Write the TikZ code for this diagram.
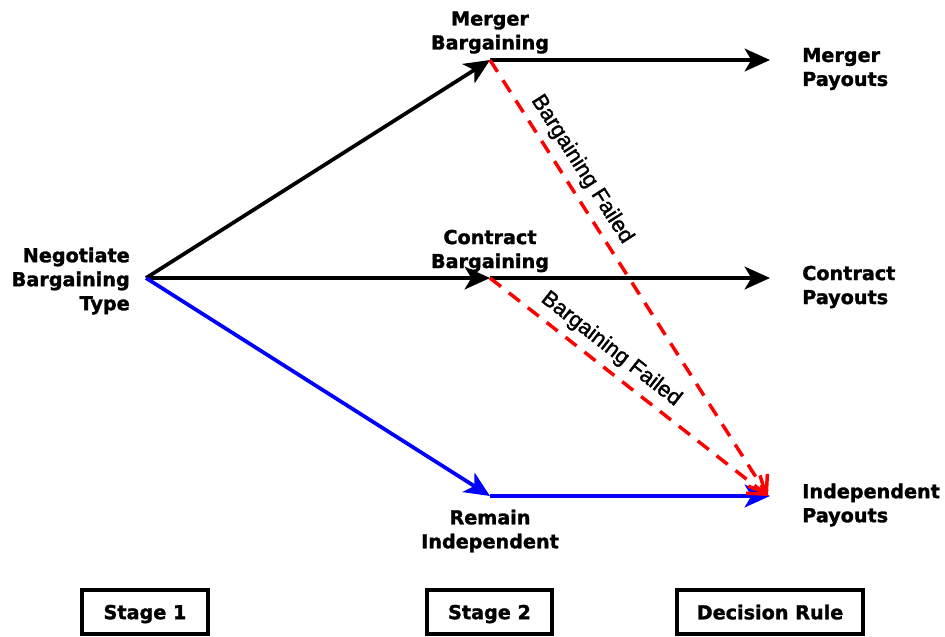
\documentclass[tikz,border=0pt]{standalone}
\usepackage{fontspec}
\setmainfont{DejaVu Sans}[BoldFeatures={FakeBold=1.5}]
\newfontfamily\arialfont{Liberation Sans}[FakeBold=1.5]
\usetikzlibrary{arrows.meta}
\begin{document}
\begin{tikzpicture}[x=0.75pt,y=-0.75pt,
  lbl/.style={font=\bfseries\fontsize{14.4}{18}\selectfont, inner sep=0pt},
  blk/.style={draw=black, line width=2.8pt, -{Stealth[length=19pt,width=17pt,inset=5pt]}},
  blu/.style={draw=blue, line width=2.8pt, -{Stealth[length=19pt,width=17pt,inset=5pt]}},
  red/.style={draw=red, line width=2.6pt, dash pattern=on 10.5pt off 7.5pt, -{Straight Barb[length=12pt,width=17pt,line width=2.6pt]}},
  fail/.style={font=\arialfont\fontsize{16.5}{18}\selectfont, sloped, above, inner sep=5pt},
  stagebox/.style={draw=black, line width=2.8pt, minimum height=33pt, text depth=0pt, font=\bfseries\fontsize{14.4}{18}\selectfont, inner sep=0pt}
]
\useasboundingbox (0,0) rectangle (945,636);
\coordinate (O) at (146,278);
\coordinate (M) at (490,60);
\coordinate (C) at (490,278);
\coordinate (R) at (490,496);
\coordinate (MP) at (770,60);
\coordinate (CP) at (770,278);
\coordinate (IP) at (770,496);
\coordinate (IR) at (768,496);

\draw[blk] (O) -- (M);
\draw[blk] (M) -- (MP);
\draw[blk] (O) -- (C);
\draw[blk] (C) -- (CP);
\draw[blu] (O) -- (R);
\draw[blu] (R) -- (IP);
\draw[red] (M) -- node[fail, pos=0.274] (f1) {Bargaining Failed} (IR);
\draw[red] (C) -- node[fail, pos=0.394] (f2) {Bargaining Failed} (IR);

\node[lbl, align=right, anchor=east] (neg) at (130,281) {Negotiate\\Bargaining\\Type};
\node[lbl, align=center] (mb) at (490,32.5) {Merger\\Bargaining};
\node[lbl, align=center] (cb) at (490,251) {Contract\\Bargaining};
\node[lbl, align=center] (ri) at (490,531) {Remain\\Independent};
\node[lbl, align=left, anchor=west] (mpay) at (802,69) {Merger\\Payouts};
\node[lbl, align=left, anchor=west] (cpay) at (802,287) {Contract\\Payouts};
\node[lbl, align=left, anchor=west] (ipay) at (802,505) {Independent\\Payouts};

\node[stagebox, minimum width=94.5pt] (s1) at (145,612) {Stage 1};
\node[stagebox, minimum width=93.75pt] (s2) at (489.5,612) {Stage 2};
\node[stagebox, minimum width=139.5pt] (dr) at (770,612) {Decision Rule};
\end{tikzpicture}
\end{document}
